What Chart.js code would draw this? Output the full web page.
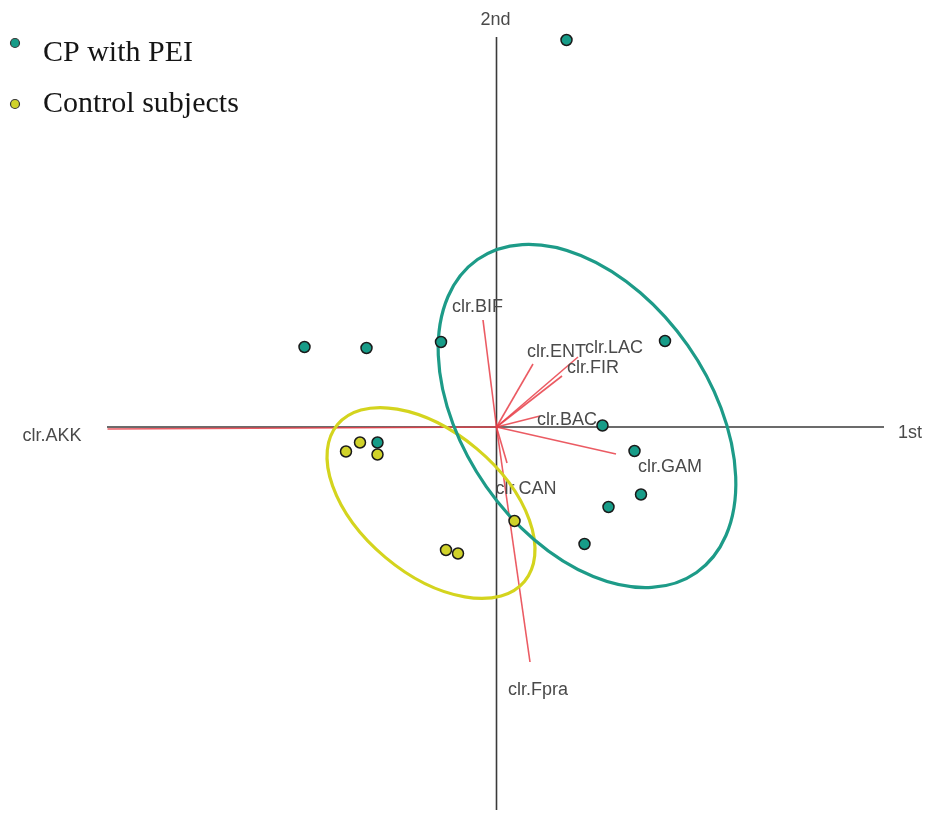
<!DOCTYPE html>
<html>
<head>
<meta charset="utf-8">
<script src="https://cdn.jsdelivr.net/npm/chart.js@4/dist/chart.umd.min.js"></script>
<style>
  html, body { margin: 0; padding: 0; background: #ffffff; }
  #wrap { width: 927px; height: 814px; }
</style>
</head>
<body>
<div id="wrap"><canvas id="biplot" width="927" height="814"></canvas></div>
<script>
// Sample scores on the first two components
const cpX   = [0.70, -1.92, -1.30, -0.555, 1.685, 1.06, 1.38, 1.445, 1.12, 0.88, -1.19];
const cpY   = [3.87,  0.80,  0.79,  0.85,  0.86,  0.015, -0.24, -0.675, -0.80, -1.17, -0.155];
const ctrlX = [-1.505, -1.365, -1.19, 0.18, -0.505, -0.385];
const ctrlY = [-0.245, -0.155, -0.275, -0.94, -1.23, -1.265];

// Variable loadings (arrow tips)
const varNames = ['clr.AKK', 'clr.BIF', 'clr.ENT', 'clr.LAC', 'clr.FIR', 'clr.BAC', 'clr.GAM', 'clr.CAN', 'clr.Fpra'];
const loadX    = [-3.89, -0.135, 0.365, 0.815, 0.655, 0.435, 1.195, 0.105, 0.335];
const loadY    = [-0.02,  1.07,  0.63,  0.70,  0.51,  0.11, -0.27, -0.36, -2.35];

// Group ellipses: centre, semi-axes, tilt (degrees, counter-clockwise)
const ellipseGroups = ['CP with PEI', 'Control subjects'];
const ellCX   = [0.905, -0.655];
const ellCY   = [0.11, -0.76];
const ellA    = [1.91, 1.22];
const ellB    = [1.23, 0.71];
const ellTilt = [-55, -40];

// Axis titles
const axisTitles = ['1st', '2nd'];

// ---- layout & styling ----
const X_RANGE = [-4.965, 4.305];
const Y_RANGE = [-3.87, 4.27];
const AXIS_X_SPAN = [-3.895, 3.875];
const AXIS_Y_SPAN = [-3.83, 3.90];
const LABEL_POS = [
  [-4.445, -0.09], [-0.19, 1.20], [0.60, 0.75], [1.175, 0.79], [0.965, 0.59],
  [0.705, 0.07], [1.735, -0.40], [0.295, -0.62], [0.415, -2.63]
];
const TEAL = '#179c88';
const YELLOW = '#d0d22a';
const TEAL_LINE = '#1d9b88';
const YELLOW_LINE = '#d4d41e';
const RED = 'rgba(232, 62, 72, 0.85)';

const loadingSets = varNames.map((name, i) => ({
  label: name,
  data: [{ x: 0, y: 0 }, { x: loadX[i], y: loadY[i] }],
  showLine: true,
  borderColor: RED,
  borderWidth: 1.6,
  pointRadius: 0,
  order: 3
}));

const axisSets = [
  { label: 'axis1', data: [{ x: AXIS_X_SPAN[0], y: 0 }, { x: AXIS_X_SPAN[1], y: 0 }] },
  { label: 'axis2', data: [{ x: 0, y: AXIS_Y_SPAN[0] }, { x: 0, y: AXIS_Y_SPAN[1] }] }
].map(d => Object.assign(d, { showLine: true, borderColor: '#3a3a3a', borderWidth: 1.6, pointRadius: 0, order: 4 }));

const cpSet = {
  label: ellipseGroups[0],
  data: cpX.map((x, i) => ({ x, y: cpY[i] })),
  backgroundColor: TEAL,
  borderColor: '#1a1a1a',
  borderWidth: 1.5,
  pointRadius: 5.5,
  order: 1
};
const ctrlSet = {
  label: ellipseGroups[1],
  data: ctrlX.map((x, i) => ({ x, y: ctrlY[i] })),
  backgroundColor: YELLOW,
  borderColor: '#1a1a1a',
  borderWidth: 1.5,
  pointRadius: 5.5,
  order: 0
};

const datasets = [ctrlSet, cpSet, ...loadingSets, ...axisSets];
const CP_INDEX = datasets.indexOf(cpSet);

// Ellipses and variable labels go between the arrows and the sample points
const overlayPlugin = {
  id: 'biplotOverlay',
  beforeDatasetDraw(chart, args) {
    if (args.index !== CP_INDEX) return;
    const { ctx, scales: { x: sx, y: sy } } = chart;
    const unit = sx.getPixelForValue(1) - sx.getPixelForValue(0);
    const colors = [TEAL_LINE, YELLOW_LINE];
    ctx.save();
    // variable labels
    ctx.font = '18px "Liberation Sans", Arial, sans-serif';
    ctx.fillStyle = '#4a4a4a';
    ctx.textAlign = 'center';
    ctx.textBaseline = 'middle';
    varNames.forEach((name, i) => {
      ctx.fillText(name, sx.getPixelForValue(LABEL_POS[i][0]), sy.getPixelForValue(LABEL_POS[i][1]));
    });
    // ellipses (control first, patients on top)
    [1, 0].forEach(g => {
      ctx.beginPath();
      ctx.ellipse(
        sx.getPixelForValue(ellCX[g]), sy.getPixelForValue(ellCY[g]),
        ellA[g] * unit, ellB[g] * unit,
        -ellTilt[g] * Math.PI / 180, 0, Math.PI * 2
      );
      ctx.strokeStyle = colors[g];
      ctx.lineWidth = 3.2;
      ctx.stroke();
    });
    ctx.restore();
  },
  afterDraw(chart) {
    const { ctx, scales: { x: sx, y: sy } } = chart;
    ctx.save();
    // axis titles
    ctx.font = '18px "Liberation Sans", Arial, sans-serif';
    ctx.fillStyle = '#4a4a4a';
    ctx.textAlign = 'center';
    ctx.textBaseline = 'middle';
    ctx.fillText(axisTitles[0], sx.getPixelForValue(AXIS_X_SPAN[1]) + 26, sy.getPixelForValue(0) + 6);
    ctx.fillText(axisTitles[1], sx.getPixelForValue(0) - 1, sy.getPixelForValue(AXIS_Y_SPAN[1]) - 17);
    // legend
    const fills = [TEAL, YELLOW];
    ctx.font = '30px "Liberation Serif", "DejaVu Serif", serif';
    ctx.textAlign = 'left';
    ctx.textBaseline = 'alphabetic';
    ellipseGroups.forEach((name, i) => {
      const cy = 43 + i * 61;
      ctx.beginPath();
      ctx.arc(15, cy, 4.5, 0, Math.PI * 2);
      ctx.fillStyle = fills[i];
      ctx.fill();
      ctx.lineWidth = 1.2;
      ctx.strokeStyle = '#3a3a3a';
      ctx.stroke();
      ctx.fillStyle = '#151515';
      ctx.fillText(name, 43, 61 + i * 51);
    });
    ctx.restore();
  }
};

new Chart(document.getElementById('biplot'), {
  type: 'scatter',
  data: { datasets },
  options: {
    responsive: false,
    devicePixelRatio: 1,
    animation: false,
    events: [],
    layout: { padding: 0, autoPadding: false },
    plugins: { legend: { display: false }, tooltip: { enabled: false } },
    scales: {
      x: { type: 'linear', min: X_RANGE[0], max: X_RANGE[1], display: false },
      y: { type: 'linear', min: Y_RANGE[0], max: Y_RANGE[1], display: false }
    }
  },
  plugins: [overlayPlugin]
});
</script>
</body>
</html>
